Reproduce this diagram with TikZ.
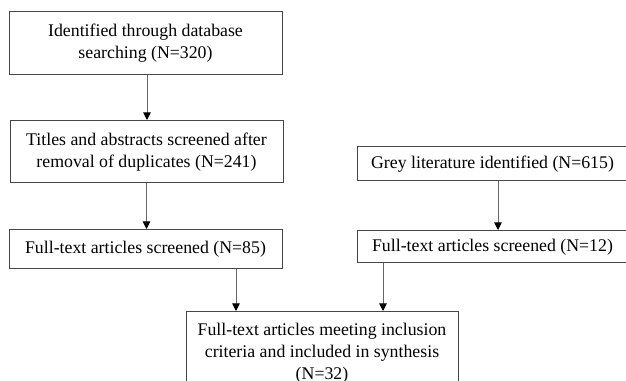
\documentclass[tikz,border=0pt]{standalone}
\usepackage{fontspec}
\setmainfont{Liberation Serif}
\usetikzlibrary{arrows.meta,calc}
\begin{document}
\begin{tikzpicture}[x=1pt,y=1pt,
  box/.style={draw=black!72, line width=1pt, inner sep=0pt, align=center,
    font=\fontsize{17.8}{22.2}\selectfont},
  flow/.style={draw=black!60, line width=0.9pt,
    -{Triangle[width=7.5pt,length=7.5pt,color=black]}, shorten >=0.5pt}]
  % page frame; the right-hand column and the bottom box run off the page
  \clip (0,0) rectangle (626,380);
  \fill[white] (0,0) rectangle (626,380);

  % database column
  \node[box, minimum width=273pt, minimum height=63pt] (db) at (145.5,336.5)
    {Identified through database\\searching (N=320)};
  \node[box, minimum width=273pt, minimum height=62pt] (ta) at (146.5,228)
    {Titles and abstracts screened after\\removal of duplicates (N=241)};
  \node[box, minimum width=273pt, minimum height=39pt] (ft) at (145.5,130.5)
    {Full-text articles screened (N=85)};

  % grey literature column
  \node[box, minimum width=271pt, minimum height=34pt] (gl) at (492.5,216)
    {Grey literature identified (N=615)};
  \node[box, minimum width=271pt, minimum height=32pt] (gf) at (492.5,133)
    {Full-text articles screened (N=12)};

  % synthesis
  \node[box, minimum width=272pt, minimum height=83pt] (syn) at (322,26.5)
    {Full-text articles meeting inclusion\\criteria and included in synthesis\\(N=32)};

  % connectors
  \draw[flow] (db.south -| 147,0) -- (ta.north -| 147,0);
  \draw[flow] (ta.south -| 146.5,0) -- (ft.north -| 146.5,0);
  \draw[flow] (ft.south -| 236,0) -- (syn.north -| 236,0);
  \draw[flow] (gl.south -| 498,0) -- (gf.north -| 498,0);
  \draw[flow] (gf.south -| 383,0) -- (syn.north -| 383,0);
\end{tikzpicture}
\end{document}
